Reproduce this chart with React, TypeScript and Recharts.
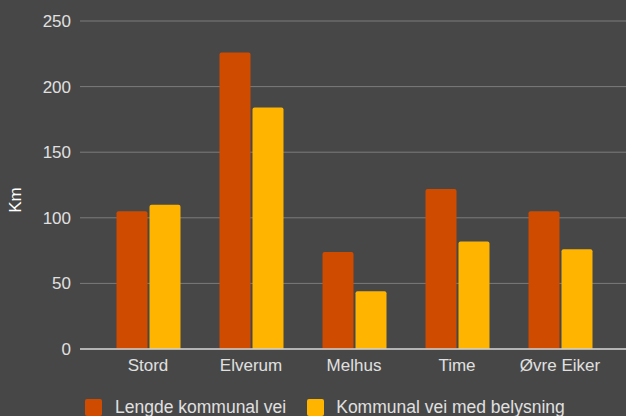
import React from "react";
import { BarChart, Bar, XAxis, YAxis, CartesianGrid, Legend } from "recharts";

const categories = ["Stord", "Elverum", "Melhus", "Time", "Øvre Eiker"];
const lengdeKommunalVei = [105, 226, 74, 122, 105];
const kommunalVeiMedBelysning = [110, 184, 44, 82, 76];
const yTicks = [0, 50, 100, 150, 200, 250];
const seriesNames = ["Lengde kommunal vei", "Kommunal vei med belysning"];
const seriesColors = ["#CF4B00", "#FFB400"];

const data = categories.map((c, i) => ({
  name: c,
  a: lengdeKommunalVei[i],
  b: kommunalVeiMedBelysning[i],
}));

const FONT = '"Liberation Sans", Arial, sans-serif';

const LegendContent = () => (
  <div
    style={{
      display: "flex",
      alignItems: "center",
      height: 26,
      paddingTop: 8,
      paddingLeft: 85,
      boxSizing: "border-box",
      fontFamily: FONT,
      fontSize: 17.5,
      color: "#e0e0e0",
    }}
  >
    {seriesNames.map((n, i) => (
      <div key={n} style={{ display: "flex", alignItems: "center", marginRight: 21 }}>
        <div style={{ width: 17, height: 17, background: seriesColors[i], borderRadius: 2, marginRight: i === 0 ? 13 : 12 }} />
        <span style={{ lineHeight: "17px" }}>{n}</span>
      </div>
    ))}
  </div>
);

const KmLabel = (props: any) => {
  const vb = props.viewBox || { x: 0, y: 0, width: 80, height: 328 };
  const x = vb.x + 21;
  const y = vb.y + vb.height / 2 + 15;
  return (
    <text
      x={x}
      y={y}
      transform={`rotate(-90 ${x} ${y})`}
      textAnchor="middle"
      fill="#ffffff"
      fontSize={17}
      fontFamily={FONT}
    >
      Km
    </text>
  );
};

export default function App() {
  return (
    <div style={{ position: "absolute", left: 0, top: 0, width: 626, height: 416, background: "#474747" }}>
      <BarChart
        width={626}
        height={416}
        data={data}
        margin={{ top: 21, right: 0, bottom: 0, left: 0 }}
        barSize={31}
        barGap={2}
        style={{ fontFamily: FONT }}
      >
        <CartesianGrid vertical={false} stroke="#7c7c7c" strokeWidth={1} />
        <XAxis
          dataKey="name"
          height={41}
          padding={{ left: 16.5, right: 14.5 }}
          tickLine={false}
          tickSize={0}
          tickMargin={10}
          axisLine={{ stroke: "#d0d0d0", strokeWidth: 1.5 }}
          tick={{ fill: "#e0e0e0", fontSize: 17, fontFamily: FONT }}
          interval={0}
        />
        <YAxis
          width={80}
          domain={[0, 250]}
          ticks={yTicks}
          tickLine={false}
          axisLine={false}
          tickSize={0}
          tickMargin={9}
          tick={{ fill: "#e0e0e0", fontSize: 17, fontFamily: FONT }}
          label={<KmLabel />}
        />
        <Legend
          verticalAlign="bottom"
          align="left"
          height={26}
          wrapperStyle={{ left: 0, width: 626 }}
          content={<LegendContent />}
        />
        <Bar dataKey="a" name={seriesNames[0]} fill={seriesColors[0]} radius={[2, 2, 0, 0]} isAnimationActive={false} />
        <Bar dataKey="b" name={seriesNames[1]} fill={seriesColors[1]} radius={[2, 2, 0, 0]} isAnimationActive={false} />
      </BarChart>
    </div>
  );
}
